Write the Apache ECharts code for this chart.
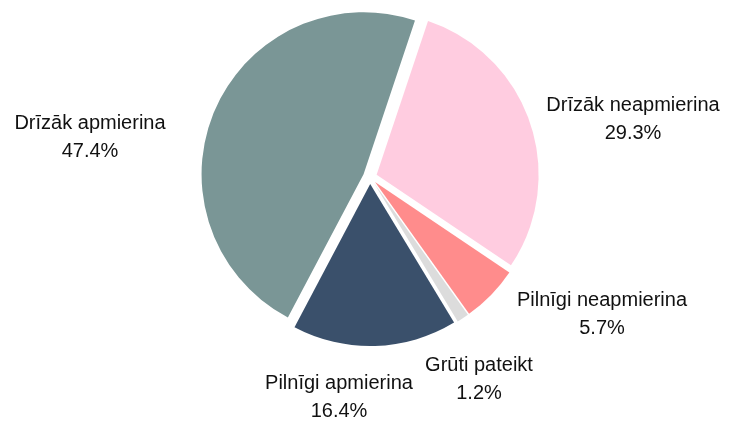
<!DOCTYPE html>
<html><head><meta charset="utf-8">
<script src="https://cdn.jsdelivr.net/npm/echarts@6/dist/echarts.min.js"></script>
<style>html,body{margin:0;padding:0;background:#fff}#c{width:735px;height:421px}</style>
</head><body><div id="c"></div>
<script>
const categories = ["Drīzāk neapmierina", "Pilnīgi neapmierina", "Grūti pateikt", "Pilnīgi apmierina", "Drīzāk apmierina"];
const values = [29.3, 5.7, 1.2, 16.4, 47.4];
const colors = ["#FFCCE0", "#FF8C8C", "#DCDCDC", "#3A506B", "#7A9696"];

// label block centres relative to the pie centre (layout only)
const CX = 370, CY = 177;
const labelOffsets = [[263, -58], [232, 137], [109, 202], [-31, 220], [-280, -40]];

const FONT = 'Liberation Sans, Arial, sans-serif';
const chart = echarts.init(document.getElementById('c'), null, {renderer: 'canvas'});
chart.setOption({
  animation: false,
  graphic: categories.map((n, i) => ({
    type: 'text',
    x: CX + labelOffsets[i][0],
    y: CY + labelOffsets[i][1],
    style: {
      text: n + '\n' + values[i].toFixed(1) + '%',
      align: 'center',
      verticalAlign: 'middle',
      fontSize: 20,
      lineHeight: 28,
      fontFamily: FONT,
      fill: '#111'
    }
  })),
  series: [{
    type: 'pie',
    center: [CX, CY],
    radius: 162,
    startAngle: 71.5,
    clockwise: true,
    selectedMode: 'multiple',
    selectedOffset: 7,
    itemStyle: {borderWidth: 0},
    label: {show: false},
    labelLine: {show: false},
    data: categories.map((n, i) => ({name: n, value: values[i], selected: true, itemStyle: {color: colors[i]}}))
  }]
});
</script></body></html>
